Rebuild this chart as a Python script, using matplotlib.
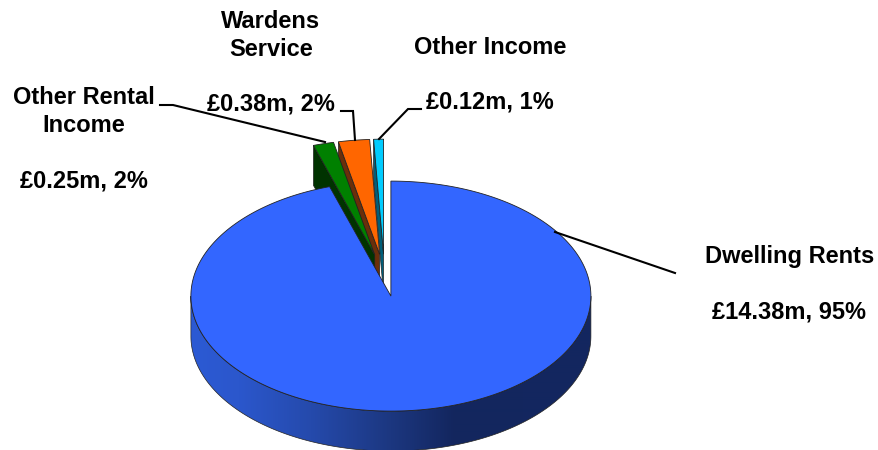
import numpy as np
import matplotlib
matplotlib.use("Agg")
import matplotlib.pyplot as plt
from matplotlib.patches import Polygon

plt.rcParams['font.family'] = ['Liberation Sans', 'DejaVu Sans']

# Income split, in GBP millions
categories = ["Dwelling Rents", "Other Rental Income", "Wardens Service", "Other Income"]
values = [14.38, 0.25, 0.38, 0.12]
percent_labels = ["95%", "2%", "2%", "1%"]
top_colors = ["#3366FF", "#008000", "#FF6600", "#00CCFF"]
side_colors = ["#14275F", "#003300", "#6B2E0A", "#005F7A"]

# Pie projection, all in pixels
CX, CY = 385.0, 274.5
RX, RY = 200.0, 115.0
DEPTH = 40.0
EXPLODE = 0.19
SMALL_NUDGE = (-0.5, 1.5)
EDGE = "#222222"

fig = plt.figure(figsize=(8.79, 4.5), dpi=100)
ax = fig.add_axes([0, 0, 1, 1])
ax.set_xlim(0, 879)
ax.set_ylim(450, 0)
ax.axis("off")


def pt(angle, centre):
    """Project a clockwise-from-north angle (degrees) on to the tilted ellipse."""
    a = np.radians(angle)
    return centre[0] + RX * np.sin(a), centre[1] - RY * np.cos(a)


def arc(a0, a1, centre, n=240):
    return np.array([pt(a, centre) for a in np.linspace(a0, a1, n)])


# Slice spans, clockwise from north
fractions = np.array(values) / sum(values)
spans = []
start = 0.0
for f in fractions:
    spans.append((start, start + f * 360))
    start += f * 360

slices = []
for (a0, a1) in spans:
    mid = np.radians((a0 + a1) / 2)
    apex = (CX + EXPLODE * RX * np.sin(mid), CY - EXPLODE * RY * np.cos(mid))
    slices.append((a0, a1, apex))


def draw_small_slice(i, z):
    a0, a1, apex = slices[i]
    apex = (apex[0] + SMALL_NUDGE[0], apex[1] + SMALL_NUDGE[1])
    corner = pt(a0, apex)
    # Visible cut face on the left-hand side of the slice
    face = [corner, (corner[0], corner[1] + DEPTH), (apex[0], apex[1] + DEPTH), apex]
    ax.add_patch(Polygon(face, closed=True, fc=side_colors[i], ec=EDGE, lw=0.5, zorder=z))
    top = np.vstack([[apex], arc(a0, a1, apex, 30)])
    ax.add_patch(Polygon(top, closed=True, fc=top_colors[i], ec=EDGE, lw=0.6, zorder=z + 0.1))


# Back to front: other income, wardens, other rental
draw_small_slice(3, 2)
draw_small_slice(2, 3)
draw_small_slice(1, 4)

# Main slice: shaded rim, then top surface
a0, a1, apex = slices[0]
front = arc(90, 270, apex)
rim = np.vstack([front, front[::-1] + [0, DEPTH]])
ax.add_patch(Polygon(rim, closed=True, fc="none", ec=EDGE, lw=0.5, zorder=5.1))

stops_x = np.array([0.0, 0.12, 0.30, 0.50, 0.66, 1.0])
stops_r = np.array([0x2C, 0x2B, 0x25, 0x1C, 0x13, 0x13])
stops_g = np.array([0x5A, 0x57, 0x4A, 0x37, 0x26, 0x27])
stops_b = np.array([0xD4, 0xCC, 0xAC, 0x80, 0x5E, 0x60])
xs = np.linspace(0, 1, 400)
grad = np.dstack([np.interp(xs, stops_x, s) for s in (stops_r, stops_g, stops_b)]) / 255
x_left, x_right = apex[0] - RX, apex[0] + RX
y_low = apex[1] + RY + DEPTH + 2
im = ax.imshow(grad, extent=(x_left, x_right, y_low, apex[1]), aspect="auto", zorder=5,
               interpolation="bilinear")
im.set_clip_path(Polygon(rim, closed=True, transform=ax.transData))
ax.set_xlim(0, 879)
ax.set_ylim(450, 0)

top = np.vstack([[apex], arc(a0, a1, apex, 600)])
ax.add_patch(Polygon(top, closed=True, fc=top_colors[0], ec=EDGE, lw=0.6, zorder=6))

# Leader lines from slices to labels
leaders = [
    [(555, 232), (675, 273)],
    [(160, 105), (173, 105), (325, 142)],
    [(341, 111), (353, 111), (355, 140)],
    [(421, 109), (408, 109), (379, 139)],
]
for pts in leaders:
    xy = np.array(pts)
    ax.plot(xy[:, 0], xy[:, 1], color="black", lw=1.5, zorder=7, solid_joinstyle="miter")

# Labels: name and value per slice
text_style = dict(fontsize=17, fontweight="bold", ha="center", va="center", color="black")
money = [f"£{v:.2f}m, {p}" for v, p in zip(values, percent_labels)]
ax.text(790, 257, "Dwelling Rents", **text_style)
ax.text(789, 312, money[0], **text_style)
ax.text(84, 98, "Other Rental", **text_style)
ax.text(84, 126, "Income", **text_style)
ax.text(84, 181, money[1], **text_style)
ax.text(271, 22, "Wardens", **text_style)
ax.text(271, 49, "Service", **text_style)
ax.text(271, 104, money[2], **text_style)
ax.text(490, 47, "Other Income", **text_style)
ax.text(490, 102, money[3], **text_style)

fig.savefig("out.png", dpi=100, facecolor="white")
